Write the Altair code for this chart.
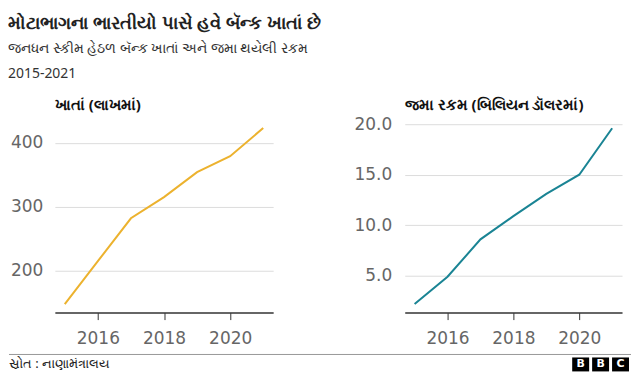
import altair as alt
import pandas as pd

# ---- data ----
years = [2015, 2016, 2017, 2018, 2019, 2020, 2021]
accounts = [148, 215, 282, 315, 354, 379, 423]          # lakh accounts
deposits = [2.2, 4.9, 8.6, 10.9, 13.1, 15.0, 19.6]       # billion dollars

x_ticks = [2016, 2018, 2020]
left_ticks = [200, 300, 400]
right_ticks = [5, 10, 15, 20]

title = "મોટાભાગના ભારતીયો પાસે હવે બૅન્ક ખાતાં છે"
subtitle = ["જનધન સ્કીમ હેઠળ બૅન્ક ખાતાં અને જમા થયેલી રકમ", "2015-2021"]
left_title = "ખાતાં (લાખમાં)"
right_title = "જમા રકમ (બિલિયન ડૉલરમાં)"
source = "સ્રોત : નાણામંત્રાલય"
logo_letters = ["B", "B", "C"]

df = pd.DataFrame({"year": years, "accounts": accounts, "deposits": deposits})

W, H = 219, 189
TICK_FONT = "DejaVu Sans"


def x_enc():
    return alt.X(
        "year:Q",
        scale=alt.Scale(domain=[2014.7, 2021.3], nice=False, zero=False),
        axis=alt.Axis(values=x_ticks, format="d", title=None, grid=False,
                      domainColor="#333333", domainWidth=1.5,
                      tickColor="#333333", tickSize=7, tickWidth=1,
                      labelFontSize=17, labelColor="#666666", labelPadding=11,
                      labelFont=TICK_FONT),
    )


def panel_title(t, off):
    return alt.TitleParams(t, anchor="start", frame="group", fontSize=15,
                           fontWeight="bold", color="#111111", offset=off,
                           font="Noto Sans")


left = alt.Chart(df).mark_line(color="#ECB22E", strokeWidth=2).encode(
    x=x_enc(),
    y=alt.Y("accounts:Q",
            scale=alt.Scale(domain=[134.6, 429], nice=False, zero=False),
            axis=alt.Axis(values=left_ticks, title=None, domain=False, ticks=False,
                          labelPadding=12, gridColor="#dcdcdc", gridWidth=1,
                          labelFontSize=17, labelColor="#666666", labelFont=TICK_FONT)),
).properties(width=W, height=H, title=panel_title(left_title, 11))

right = alt.Chart(df).mark_line(color="#1A8494", strokeWidth=2).encode(
    x=x_enc(),
    y=alt.Y("deposits:Q",
            scale=alt.Scale(domain=[1.35, 20.0], nice=False, zero=False),
            axis=alt.Axis(values=right_ticks, format=".1f", title=None, domain=False,
                          ticks=False, labelPadding=13, gridColor="#dcdcdc", gridWidth=1,
                          labelFontSize=17, labelColor="#666666", labelFont=TICK_FONT)),
).properties(width=218, height=H, title=panel_title(right_title, 2))

panels = alt.hconcat(left, right, spacing=79)

# ---- footer (coordinates relative to the left plot's origin) ----
fdf = pd.DataFrame({"k": [0]})
fb = alt.Chart(fdf)
footer_layers = [
    fb.mark_rule(color="#999999", strokeWidth=1).encode(
        x=alt.value(-46), x2=alt.value(578), y=alt.value(0)),
    fb.mark_text(align="left", baseline="middle", fontSize=13, color="#222222",
                 text=source, font="Noto Sans").encode(x=alt.value(-46), y=alt.value(10)),
]
for i, letter in enumerate(logo_letters):
    x0 = 519 + i * 20
    footer_layers.append(
        fb.mark_rect(color="#000000").encode(
            x=alt.value(x0), x2=alt.value(x0 + 17), y=alt.value(3), y2=alt.value(17)))
    footer_layers.append(
        fb.mark_text(text=letter, color="#ffffff", fontWeight="bold", fontSize=11,
                     font="DejaVu Sans", baseline="middle", align="center").encode(
            x=alt.value(x0 + 8.5), y=alt.value(10)))
footer = alt.layer(*footer_layers).properties(width=W, height=17)

chart = alt.vconcat(panels, footer, spacing=6).properties(
    padding={"left": 0, "top": 5, "right": 0, "bottom": 0},
    title=alt.TitleParams(title, subtitle=subtitle, anchor="start", fontSize=18.5,
                          fontWeight="bold", color="#222222", font="Noto Sans",
                          subtitleFontSize=14, subtitleColor="#333333",
                          subtitleFont="Noto Sans", subtitleLineHeight=25,
                          subtitlePadding=9, offset=17),
).configure_view(stroke="transparent")

chart.save("out.html", embed_options={"renderer": "svg", "actions": False})
